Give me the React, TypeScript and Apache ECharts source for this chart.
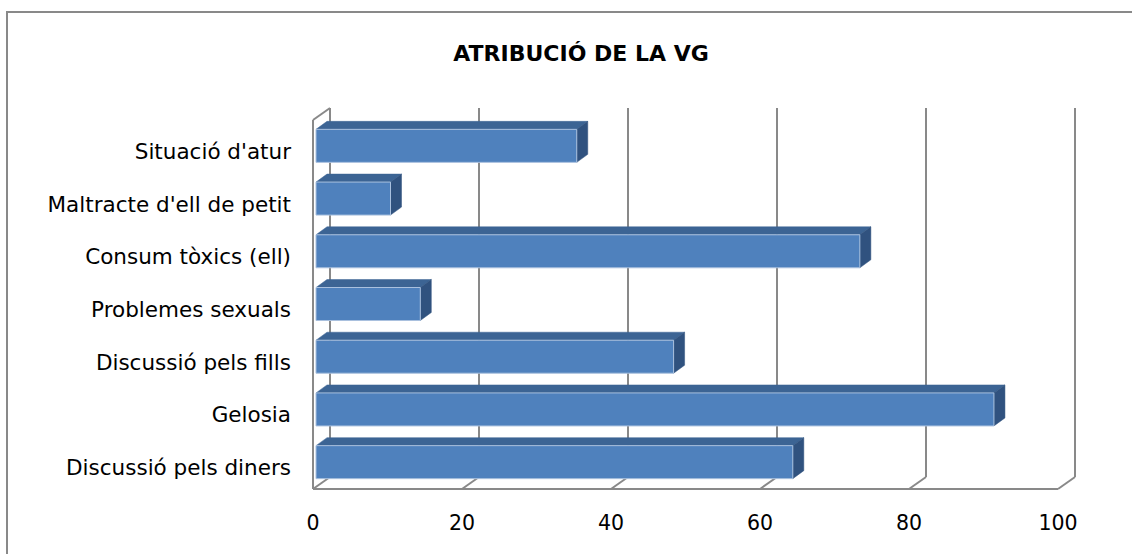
import React, { useEffect, useRef } from "react";
import * as echarts from "echarts";

const titleText = "ATRIBUCIÓ DE LA VG";
const categories = [
  "Situació d'atur",
  "Maltracte d'ell de petit",
  "Consum tòxics (ell)",
  "Problemes sexuals",
  "Discussió pels fills",
  "Gelosia",
  "Discussió pels diners",
];
const values = [35, 10, 73, 14, 48, 91, 64];
const xTicks = [0, 20, 40, 60, 80, 100];

const FONT = "DejaVu Sans";

export default function App() {
  const ref = useRef<HTMLDivElement>(null);
  useEffect(() => {
    if (!ref.current) return;
    const chart = echarts.init(ref.current, null, { renderer: "svg" });
    const DX = 17;
    const DY = -12;
    const wallColor = "#898989";
    const option: any = {
      animation: false,
      backgroundColor: "#ffffff",
      title: {
        text: titleText,
        left: 576,
        top: 37,
        textAlign: "center",
        textStyle: { fontFamily: FONT, fontWeight: "bold", fontSize: 22, color: "#000" },
      },
      grid: { left: 313, right: 74, top: 120, bottom: 65 },
      xAxis: {
        type: "value",
        min: 0,
        max: 100,
        interval: 20,
        axisLine: { show: false },
        axisTick: { show: false },
        splitLine: { show: false },
        axisLabel: { margin: 23, fontFamily: FONT, fontSize: 20.5, color: "#000" },
      },
      yAxis: {
        type: "category",
        inverse: true,
        data: categories,
        axisLine: { show: false },
        axisTick: { show: false },
        splitLine: { show: false },
        axisLabel: {
          margin: 22,
          fontFamily: FONT,
          fontSize: 21.5,
          color: "#000",
          verticalAlign: "top",
          lineHeight: 10,
        },
      },
      graphic: [
        {
          type: "rect",
          shape: { x: 7, y: 12, width: 1140, height: 560 },
          style: { fill: "none", stroke: wallColor, lineWidth: 2 },
          silent: true,
        },
      ],
      series: [
        {
          type: "custom",
          data: [[0, 0]],
          z: 1,
          renderItem: (params: any, api: any) => {
            const cs = params.coordSys;
            const yT = cs.y;
            const yB = cs.y + cs.height;
            const children: any[] = [];
            const ls = { stroke: wallColor, lineWidth: 2, fill: "none" };
            const x0 = api.coord([0, 0])[0];
            const x100 = api.coord([100, 0])[0];
            xTicks.forEach((t) => {
              const x = api.coord([t, 0])[0];
              children.push({ type: "line", shape: { x1: x + DX, y1: yT + DY, x2: x + DX, y2: yB + DY }, style: ls });
              children.push({ type: "line", shape: { x1: x, y1: yB, x2: x + DX, y2: yB + DY }, style: ls });
            });
            children.push({ type: "line", shape: { x1: x0, y1: yB, x2: x100, y2: yB }, style: ls });
            children.push({ type: "line", shape: { x1: x0, y1: yB, x2: x0, y2: yT }, style: ls });
            children.push({ type: "line", shape: { x1: x0, y1: yT, x2: x0 + DX, y2: yT + DY }, style: ls });
            return { type: "group", children };
          },
        },
        {
          type: "custom",
          data: values.map((v, i) => [v, i]),
          encode: { x: 0, y: 1 },
          z: 2,
          renderItem: (params: any, api: any) => {
            const v = api.value(0);
            const c = api.value(1);
            const p0 = api.coord([0, c]);
            const p1 = api.coord([v, c]);
            const h = 33;
            const yTop = p0[1] - 17;
            const x0 = p0[0] + 3;
            const x1 = p1[0] + 3;
            const dx = 11;
            const dy = -8;
            return {
              type: "group",
              children: [
                {
                  type: "polygon",
                  shape: { points: [[x0, yTop], [x0 + dx, yTop + dy], [x1 + dx, yTop + dy], [x1, yTop]] },
                  style: { fill: "#3c6494", stroke: "#3c6494", lineWidth: 0.5 },
                },
                {
                  type: "polygon",
                  shape: { points: [[x1, yTop], [x1 + dx, yTop + dy], [x1 + dx, yTop + h + dy], [x1, yTop + h]] },
                  style: { fill: "#30527f", stroke: "#30527f", lineWidth: 0.5 },
                },
                {
                  type: "rect",
                  shape: { x: x0, y: yTop, width: x1 - x0, height: h },
                  style: { fill: "#4f81bd", stroke: "#a9c0de", lineWidth: 1 },
                },
              ],
            };
          },
        },
      ],
    };
    chart.setOption(option);
    return () => chart.dispose();
  }, []);
  return (
    <div
      ref={ref}
      style={{ position: "fixed", left: 0, top: 0, width: 1132, height: 554 }}
    />
  );
}
